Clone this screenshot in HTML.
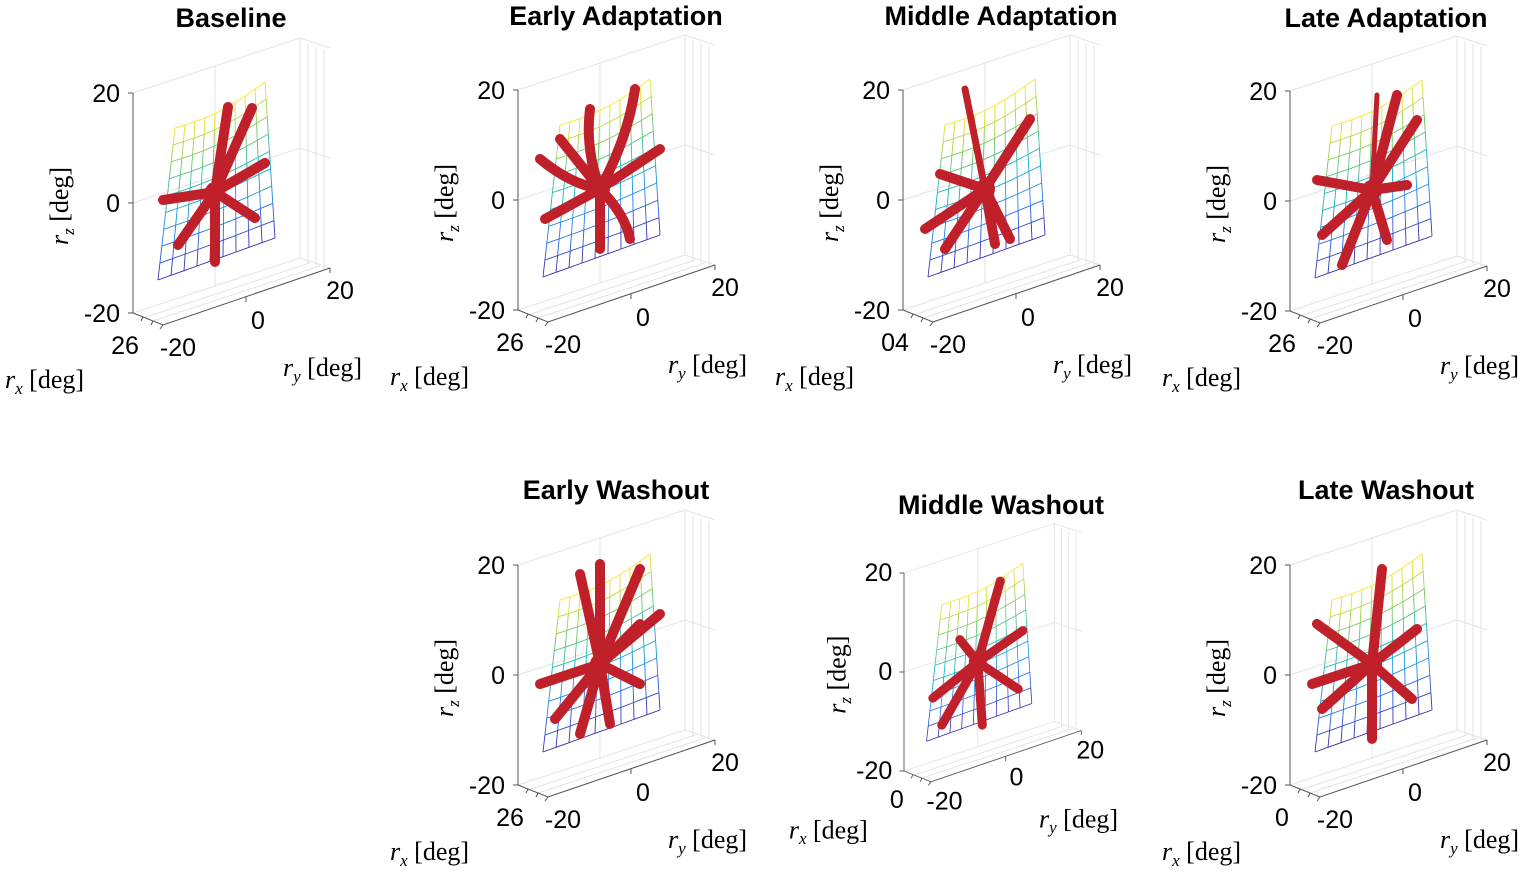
<!DOCTYPE html>
<html><head><meta charset="utf-8"><style>
html,body{margin:0;padding:0;background:#fff;width:1536px;height:874px;overflow:hidden}
svg{display:block}
.t{font-family:"Liberation Sans",sans-serif;font-weight:bold;font-size:27px;text-anchor:middle}
.n{font-family:"Liberation Sans",sans-serif}
.l{font-family:"Liberation Serif",serif}
</style></head><body>
<svg id="s" width="1536" height="874" xmlns="http://www.w3.org/2000/svg"></svg>
<script>
const S=document.getElementById('s');let h='';
function parula(t){const c=[[62,38,168],[40,120,240],[20,180,200],[120,200,100],[250,230,40]];
 const x=t*(c.length-1),i=Math.min(c.length-2,Math.floor(x)),f=x-i;
 return 'rgb('+c[i].map((v,k)=>Math.round(v+(c[i+1][k]-v)*f)).join(',')+')';}
function panel(o){
 const X=o.x,Y=o.y,sc=o.s||1;
 const nf=(25/sc).toFixed(1), lf=(26/sc).toFixed(1), sf=(17/sc).toFixed(1);
 let g='<g transform="translate('+X+','+Y+') scale('+sc+')">';
 const L='stroke="#e3e3e3" stroke-width="1" fill="none"';
 g+='<path d="M0,0 L167,-55 L197,-45 M167,-55 L167,165 L197,175 M0,110 L167,55 L197,65 M82,-27 L82,193 M167,165 L0,220 M30,232 L197,175" '+L+'/>';
 for(let i=1;i<4;i++)g+='<path d="M'+(167+i*8)+','+(-52+i*2.7)+' L'+(167+i*8)+','+(168+i*2.7)+'" '+L+'/>';
 g+='<path d="M10,225 L177,170 M20,228 L187,173" '+L+'/>';
 g+='<path d="M0,0 L0,220 M0,0 L-5,0 M0,110 L-5,110 M0,220 L-5,220 M0,220 L30,232 L197,175 M10,224 L8,228 M20,228 L18,232 M30,232 L27,236 M113,204 L113,209 M197,175 L197,180" stroke="#555" stroke-width="1" fill="none"/>';
 const P=[[42,35],[132,-11],[142,145],[25,187]];
 const pt=(u,v)=>{const bow=Math.sin(Math.PI*u)*6*(1-v);
  return [P[0][0]*(1-u)*(1-v)+P[1][0]*u*(1-v)+P[2][0]*u*v+P[3][0]*(1-u)*v,
  P[0][1]*(1-u)*(1-v)+P[1][1]*u*(1-v)+P[2][1]*u*v+P[3][1]*(1-u)*v+bow];};
 const N=9;
 for(let i=0;i<=N;i++){const u=i/N;
  for(let j=0;j<N;j++){const a=pt(u,j/N),b=pt(u,(j+1)/N);g+='<line x1="'+a[0].toFixed(1)+'" y1="'+a[1].toFixed(1)+'" x2="'+b[0].toFixed(1)+'" y2="'+b[1].toFixed(1)+'" stroke="'+parula(1-(j+0.5)/N)+'" stroke-width="0.9"/>';}}
 for(let j=0;j<=N;j++){const v=j/N;let d='M';for(let i=0;i<=N;i++){const a=pt(i/N,v);d+=(i?' L':'')+a[0].toFixed(1)+','+a[1].toFixed(1);}
  g+='<path d="'+d+'" stroke="'+parula(1-v)+'" stroke-width="0.9" fill="none"/>';}
 const c=[82,99];
 for(const a of o.arms){g+='<path d="M'+c[0]+','+c[1]+' Q'+(c[0]+a[0]*0.5+(a[2]||0))+','+(c[1]+a[1]*0.5+(a[3]||0))+' '+(c[0]+a[0])+','+(c[1]+a[1])+'" stroke="#c0202a" stroke-width="'+(a[4]||10)+'" stroke-linecap="round" fill="none"/>';}
 g+='<circle cx="'+c[0]+'" cy="'+c[1]+'" r="10" fill="#c0202a"/>';
 const N_=(x,y,a,t)=>'<text class="n" font-size="'+nf+'" x="'+x+'" y="'+y+'" text-anchor="'+a+'">'+t+'</text>';
 g+=N_(-13,9,'end','20')+N_(-13,119,'end','0')+N_(-13,229,'end','-20');
 g+=N_(-8,261,'middle',o.rx);
 g+=N_(45,263,'middle','-20')+N_(125,236,'middle','0')+N_(207,206,'middle','20');
 const lab=(s)=>'<tspan font-style="italic">r</tspan><tspan font-size="'+sf+'" font-style="italic" dy="6">'+s+'</tspan><tspan dy="-6"> [deg]</tspan>';
 g+='<text class="l" font-size="'+lf+'" transform="translate(-65,113) rotate(-90)" text-anchor="middle">'+lab('z')+'</text>';
 g+='<text class="l" font-size="'+lf+'" x="150" y="283">'+lab('y')+'</text>';
 g+='<text class="l" font-size="'+lf+'" x="-128" y="295">'+lab('x')+'</text>';
 g+='</g>';
 g+='<text class="t" x="'+o.tx+'" y="'+o.ty+'">'+o.t+'</text>';
 h+=g;}
const A1=[[13,-85],[37,-84],[50,-29],[-52,8],[40,26],[-37,53],[0,70]];
const A2=[[-10,-80,-10,0],[35,-100,10,0],[60,-40],[-60,-30,0,10],[-55,30],[30,50,10,0],[0,60],[-40,-50]];
const A3=[[-20,-100,0,0,7],[45,-70],[-45,-15],[-60,40],[25,50],[10,55],[-40,60]];
const A4=[[5,-95,0,0,5],[25,-95],[45,-70],[-55,-10],[35,-5],[-50,45],[15,50],[-30,75]];
const A5=[[-20,-90],[0,-100],[40,-95],[60,-50],[-60,20],[-45,55],[40,20],[-20,70],[10,60],[40,-40]];
const A6=[[25,-90],[50,-35],[-50,40],[45,30],[-40,70],[5,70],[-20,-25]];
const A7=[[10,-95],[45,-35],[-55,-40],[-50,45],[0,75],[40,35],[-60,20]];
panel({x:133,y:93,arms:A1,rx:'26',t:'Baseline',tx:231,ty:27});
panel({x:518,y:90,arms:A2,rx:'26',t:'Early Adaptation',tx:616,ty:25});
panel({x:903,y:90,arms:A3,rx:'04',t:'Middle Adaptation',tx:1001,ty:25});
panel({x:1290,y:91,arms:A4,rx:'26',t:'Late Adaptation',tx:1386,ty:27});
panel({x:518,y:565,arms:A5,rx:'26',t:'Early Washout',tx:616,ty:499});
panel({x:904,y:573,s:0.9,arms:A6,rx:'0',t:'Middle Washout',tx:1001,ty:514});
panel({x:1290,y:565,arms:A7,rx:'0',t:'Late Washout',tx:1386,ty:499});
S.innerHTML=h;
</script>
</body></html>
